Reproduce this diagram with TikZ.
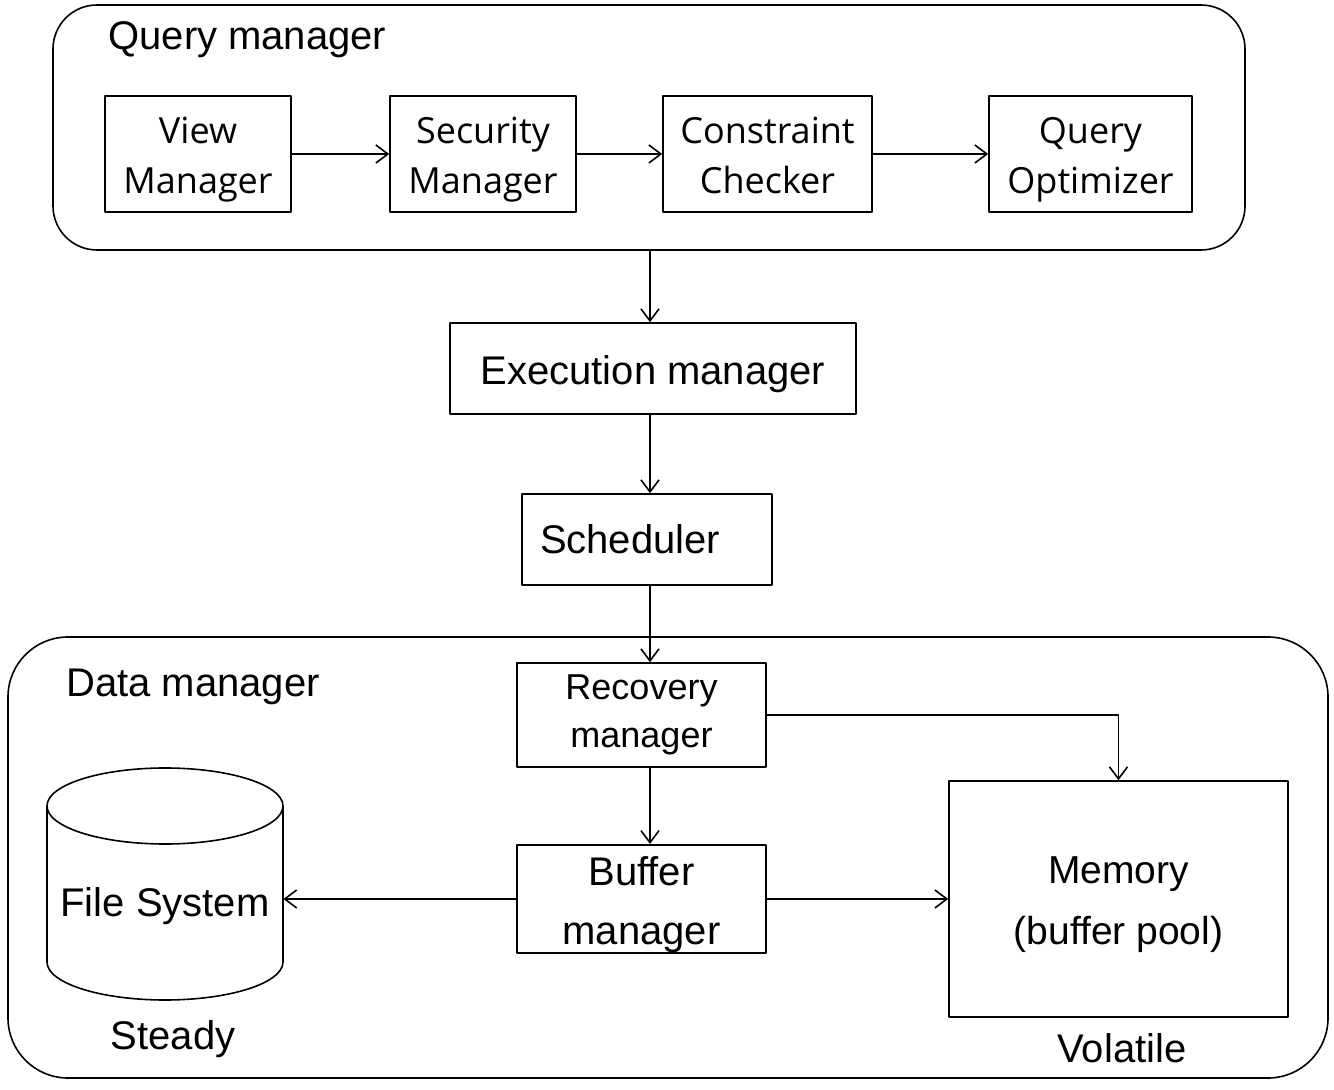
\documentclass[tikz,border=0pt]{standalone}
\usepackage{fontspec}
\setmainfont{Liberation Sans}
\newfontfamily\boxfont{Open Sans}
\usetikzlibrary{arrows.meta}

% strut of given height and depth
\newcommand\vstrut[2]{\rule[-#2]{0pt}{\dimexpr#1+#2\relax}}

\tikzset{
	box/.style={draw,line width=0.8pt,inner sep=0pt,align=center},
	topbox/.style={box,font=\boxfont\fontsize{18}{25}\selectfont,minimum height=58pt},
	midbox/.style={box,minimum height=45.5pt},
	group/.style={draw,line width=0.8pt,inner sep=0pt},
	grouplabel/.style={anchor=west,inner sep=0pt},
	con/.style={line width=0.8pt,-{Straight Barb[length=6pt,width=9pt]}},
}

\begin{document}
\begin{tikzpicture}[x=0.5pt,y=-0.5pt,font=\fontsize{20}{29}\selectfont,line join=round,line cap=round]
	\useasboundingbox (0,0) rectangle (1334,1090);
	\coordinate (spine) at (650,0);
	% query manager
	\node[group,rounded corners=22pt,minimum width=596pt,minimum height=122.5pt] (qm) at (649,127.5) {};
	\node[grouplabel] (qmlabel) at (108,40) {Query manager};
	\node[topbox,minimum width=93pt] (vm) at (198,154) {\vstrut{19pt}{0pt}View\\Manager\vstrut{0pt}{4.5pt}};
	\node[topbox,minimum width=93pt] (sm) at (483,154) {\vstrut{19pt}{0pt}Security\\Manager\vstrut{0pt}{4.5pt}};
	\node[topbox,minimum width=104.5pt] (cc) at (767.5,154) {\vstrut{19pt}{0pt}Constraint\\Checker\vstrut{0pt}{4.5pt}};
	\node[topbox,minimum width=101.5pt] (qo) at (1090.5,154) {\vstrut{19pt}{0pt}Query\\Optimizer\vstrut{0pt}{4.5pt}};
	\draw[con] (vm) -- (sm);
	\draw[con] (sm) -- (cc);
	\draw[con] (cc) -- (qo);
	% execution and scheduling
	\node[midbox,minimum width=203pt] (em) at (653,368.5) {\vstrut{20.7pt}{4.2pt}Execution manager};
	\node[midbox,inner xsep=9pt,text width=107pt,align=left] (sch) at (647,539.5) {Scheduler};
	% data manager
	\node[group,rounded corners=30pt,minimum width=660pt,minimum height=220.5pt] (dm) at (668,857.5) {};
	\node[grouplabel] (dmlabel) at (66,687) {Data manager};
	\node[box,minimum width=124.5pt,minimum height=52pt,font=\fontsize{18}{24}\selectfont] (rm) at (641.5,715) {Recovery\\manager};
	\node[box,minimum width=124.5pt,minimum height=52pt,font=\fontsize{20}{29.5}\selectfont] (bm) at (641.5,899) {\vstrut{20.6pt}{0pt}Buffer\\manager};
	\node[box,minimum width=169.5pt,minimum height=118pt,font=\fontsize{19.5}{30.5}\selectfont] (mem) at (1118.5,899) {\vstrut{19pt}{0pt}Memory\\(buffer pool)};
	\node[inner sep=0pt,minimum width=118pt] (fs) at (165,906) {File System};
	\draw[line width=0.8pt] (165,806) ellipse [x radius=118, y radius=38];
	\draw[line width=0.8pt] (47,806) -- (47,962) arc[start angle=180, end angle=0, x radius=118, y radius=38] -- (283,806);
	\node (steady) at (173,1039) {Steady};
	\node (volatile) at (1122,1048) {Volatile};
	% connectors
	\draw[con] (qm.south -| spine) -- (em.north -| spine);
	\draw[con] (em.south -| spine) -- (sch.north -| spine);
	\draw[con] (sch.south -| spine) -- (rm.north -| spine);
	\draw[con] (rm.south -| spine) -- (bm.north -| spine);
	\draw[con] (rm.east) -| (mem.north);
	\draw[con] (bm.west) -- (bm.west -| fs.east);
	\draw[con] (bm.east) -- (mem.west);
\end{tikzpicture}
\end{document}
